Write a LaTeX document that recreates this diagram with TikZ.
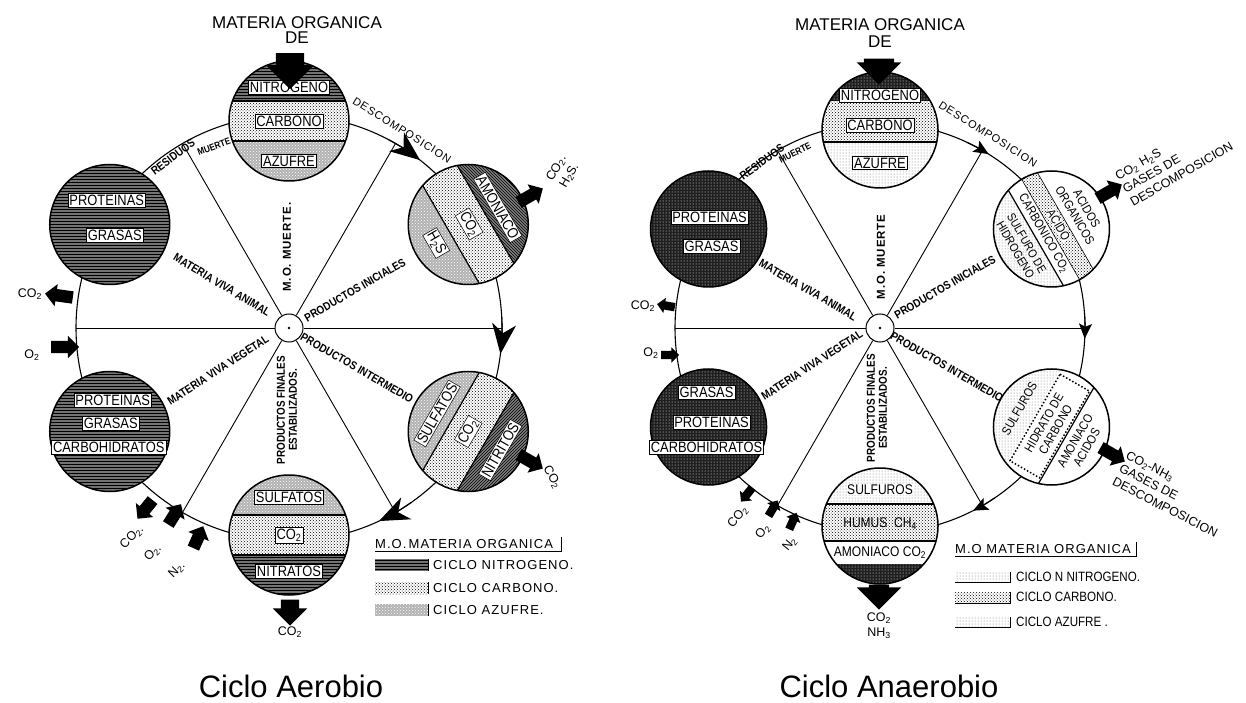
\documentclass[tikz,border=0pt]{standalone}
\usepackage{fontspec}
\setmainfont{Liberation Sans}
\newfontfamily\condfont[FakeStretch=0.86]{Liberation Sans}
\newfontfamily\spacedfont[LetterSpace=8]{Liberation Sans}
\usetikzlibrary{shapes.arrows,arrows.meta,patterns,positioning}

\begin{document}
\begin{tikzpicture}[x=1pt, y=1pt,
    ringline/.style={line width=1.1pt},
    spoke/.style={line width=0.9pt},
    bandline/.style={line width=1.2pt},
    hub/.style={circle, draw, fill=white, line width=1pt, minimum size=28pt, inner sep=0pt},
    disc/.style={circle, draw, line width=1.5pt, minimum size=120pt, inner sep=0pt},
    discB/.style={disc, minimum size=116pt},
    flowarrow/.style={ringline, -{Stealth[length=30pt, width=24pt, inset=9pt]}},
    flowarrowB/.style={ringline, -{Stealth[length=15pt, width=13pt, inset=3pt]}},
    garrow/.style={single arrow, fill=black, inner xsep=0pt, inner ysep=6pt, minimum width=22pt, minimum height=28pt, single arrow head extend=5pt},
    sarrow/.style={single arrow, fill=black, inner xsep=0pt, inner ysep=4pt, minimum width=15pt, minimum height=18pt, single arrow head extend=3.5pt},
    nfill/.style={preaction={fill=black!55}, pattern=horizontal lines},
    nwfill/.style={preaction={fill=black!50}, pattern=north west lines},
    nefill/.style={preaction={fill=black!50}, pattern=north east lines},
    cfill/.style={preaction={fill=white}, pattern=crosshatch dots},
    sfill/.style={preaction={fill=black!30}, pattern=crosshatch dots, pattern color=white},
    darkfill/.style={preaction={fill=black!88}, pattern=dots, pattern color=white},
    lightfill/.style={preaction={fill=white}, pattern=dots, pattern color=black!55},
    disclbl/.style={font=\condfont\fontsize{15}{16}\selectfont, fill=white, draw, line width=0.5pt, inner sep=1.5pt},
    disctext/.style={font=\condfont\fontsize{12.5}{13.5}\selectfont, inner sep=0.5pt, align=center},
    ringtag/.style={font=\condfont\bfseries\fontsize{11.5}{12}\selectfont, inner sep=0pt, align=center},
    gaslbl/.style={font=\fontsize{12.5}{15}\selectfont, inner sep=0pt, align=left},
    headlbl/.style={font=\fontsize{17}{17}\selectfont, inner sep=1pt},
    legtitle/.style={font=\spacedfont\fontsize{13}{13}\selectfont, inner sep=0pt, anchor=south west},
    legtxt/.style={font=\spacedfont\fontsize{13}{13}\selectfont, anchor=west, inner sep=0pt},
    titlelbl/.style={font=\fontsize{31}{31}\selectfont, anchor=base}
]
\useasboundingbox (0,0) rectangle (1246,702);

% ================= Ciclo Aerobio =================
\node[hub] (hubA) at (289,374) {};
\foreach \a in {0,60,...,300}
    \coordinate (rA\a) at ([shift={(\a:213)}]hubA.center);
\draw[ringline] (hubA.center) circle[radius=213];
\foreach \a in {0,60,...,300}
    \draw[spoke] (hubA) -- (rA\a);
\fill (hubA.center) circle[radius=1.3];

% flow along the ring
\draw[flowarrow] ([shift={(62:213)}]hubA.center) arc[start angle=62, end angle=52, radius=213];
\draw[flowarrow] ([shift={(3:213)}]hubA.center) arc[start angle=3, end angle=-7, radius=213];
\draw[flowarrow] ([shift={(-55:213)}]hubA.center) arc[start angle=-55, end angle=-65, radius=213];

% labels on the ring and the spokes
\node[ringtag, rotate=37] (resA) at (173,545) {RESIDUOS};
\node[ringtag, font=\condfont\bfseries\fontsize{9.5}{10}\selectfont, rotate=20] (muA) at (214,555) {MUERTE};
\node[ringtag, font=\spacedfont\fontsize{11}{11}\selectfont, rotate=-32] (desA) at (402,572) {DESCOMPOSICION};
\node[ringtag, rotate=-31] (mvaA) at (222,417) {MATERIA VIVA ANIMAL};
\node[ringtag, rotate=30] (piA) at (355,412) {PRODUCTOS INICIALES};
\node[ringtag, font=\spacedfont\bfseries\fontsize{11.5}{12}\selectfont, rotate=90] (momA) at (287,455) {M.O. MUERTE.};
\node[ringtag, rotate=33] (mvvA) at (218,332) {MATERIA VIVA VEGETAL};
\node[ringtag, rotate=-30] (pimA) at (357,334) {PRODUCTOS INTERMEDIO};
\node[ringtag, rotate=90] (pfA) at (287,292) {PRODUCTOS FINALES\\ESTABILIZADOS.};

% discs
\foreach \n/\a in {Top/90,Ur/30,Lr/-30,Bot/-90,Ll/-150,Ul/150}
    \coordinate (c\n A) at ([shift={(\a:207)}]hubA.center);

\begin{scope}[shift={(cTopA)}]
    \clip (0,0) circle[radius=60];
    \fill[nfill] (-60,20) rectangle (60,60);
    \fill[cfill] (-60,-20) rectangle (60,20);
    \fill[sfill] (-60,-60) rectangle (60,-20);
    \draw[bandline] (-60,20) -- (60,20) (-60,-20) -- (60,-20);
\end{scope}
\begin{scope}[shift={(cUrA)}, rotate=-60]
    \clip (0,0) circle[radius=60];
    \fill[nwfill] (-60,20) rectangle (60,60);
    \fill[cfill] (-60,-20) rectangle (60,20);
    \fill[sfill] (-60,-60) rectangle (60,-20);
    \draw[bandline] (-60,20) -- (60,20) (-60,-20) -- (60,-20);
\end{scope}
\begin{scope}[shift={(cLrA)}, rotate=-120]
    \clip (0,0) circle[radius=60];
    \fill[nefill] (-60,20) rectangle (60,60);
    \fill[cfill] (-60,-20) rectangle (60,20);
    \fill[sfill] (-60,-60) rectangle (60,-20);
    \draw[bandline] (-60,20) -- (60,20) (-60,-20) -- (60,-20);
\end{scope}
\begin{scope}[shift={(cBotA)}, rotate=180]
    \clip (0,0) circle[radius=60];
    \fill[nfill] (-60,20) rectangle (60,60);
    \fill[cfill] (-60,-20) rectangle (60,20);
    \fill[sfill] (-60,-60) rectangle (60,-20);
    \draw[bandline] (-60,20) -- (60,20) (-60,-20) -- (60,-20);
\end{scope}
\fill[nfill] (cLlA) circle[radius=60];
\fill[nfill] (cUlA) circle[radius=60];

\foreach \n in {Top,Ur,Lr,Bot,Ll,Ul}
    \node[disc] (disc\n A) at (c\n A) {};

\begin{scope}[shift={(cTopA)}]
    \node[disclbl] (nitA) at (0,34) {NITROGENO};
    \node[disclbl] (carA) at (0,0) {CARBONO};
    \node[disclbl] (azuA) at (0,-40) {AZUFRE};
\end{scope}
\begin{scope}[shift={(cUrA)}, rotate=-60]
    \node[disclbl, rotate=-60] (amoA) at (0,34) {AMONIACO};
    \node[disclbl, rotate=-60] (co1A) at (0,1) {CO\textsubscript{2}};
    \node[disclbl, rotate=-60] (hsA) at (0,-37) {H\textsubscript{2}S};
\end{scope}
\begin{scope}[shift={(cLrA)}, rotate=-120]
    \node[disclbl, rotate=60] (nitrA) at (0,37) {NITRITOS};
    \node[disclbl, rotate=60] (co2A) at (0,0) {CO\textsubscript{2}};
    \node[disclbl, rotate=60] (sulA) at (0,-36) {SULFATOS};
\end{scope}
\begin{scope}[shift={(cBotA)}, rotate=180]
    \node[disclbl] (natA) at (0,36) {NITRATOS};
    \node[disclbl] (co3A) at (0,0) {CO\textsubscript{2}};
    \node[disclbl] (sfA) at (0,-38) {SULFATOS};
\end{scope}
\begin{scope}[shift={(cLlA)}]
    \node[disclbl] (prvA) at (3,31) {PROTEINAS};
    \node[disclbl] (grvA) at (1,8) {GRASAS};
    \node[disclbl, minimum width=112pt] (chA) at (-1,-16) {CARBOHIDRATOS};
\end{scope}
\begin{scope}[shift={(cUlA)}]
    \node[disclbl] (praA) at (-3,24) {PROTEINAS};
    \node[disclbl] (graA) at (5,-11) {GRASAS};
\end{scope}

% gases in and out
\node[garrow, inner ysep=14pt, minimum width=46pt, minimum height=36pt, single arrow head extend=9pt, rotate=-90] (inA) at (290,638) {};
\node[garrow, rotate=30] (outUrA) at (528,505) {};
\node[garrow, rotate=-30] (outLrA) at (528,242) {};
\node[garrow, inner ysep=9pt, minimum width=34pt, minimum height=26pt, single arrow head extend=8pt, rotate=-90] (outBotA) at (290,94) {};
\node[garrow, rotate=172] (outLA) at (62,406) {};
\node[garrow] (inLA) at (62,355) {};
\node[garrow, minimum height=24pt, rotate=231] (outBlA) at (147,195) {};
\node[garrow, minimum height=24pt, rotate=58] (inBlA1) at (173,185) {};
\node[garrow, minimum height=24pt, rotate=66] (inBlA2) at (197,162) {};

\node[headlbl] (matA) at (297,679) {MATERIA ORGANICA};
\node[headlbl, below=0pt of matA] (deA) {DE};
\node[gaslbl, align=center, rotate=60] (gUrA) at (563,530) {CO\textsubscript{2}.\\H\textsubscript{2}S.};
\node[gaslbl, rotate=-60] (gLrA) at (552,225) {CO\textsubscript{2}};
\node[gaslbl] (gBotA) at (290,70) {CO\textsubscript{2}};
\node[gaslbl] (gLA1) at (30,408) {CO\textsubscript{2}};
\node[gaslbl] (gLA2) at (32,347) {O\textsubscript{2}};
\node[gaslbl, rotate=45] (gBlA1) at (132,165) {CO\textsubscript{2}.};
\node[gaslbl, rotate=45] (gBlA2) at (153,149) {O\textsubscript{2}.};
\node[gaslbl, rotate=45] (gBlA3) at (177,132) {N\textsubscript{2}.};

% legend
\node[legtitle] (legA) at (375,153) {M.O.\,MATERIA ORGANICA};
\draw[line width=0.9pt] ([yshift=-2pt]legA.south west) -- ([xshift=8pt, yshift=-2pt]legA.south east) -- ++(0,14);
\fill[nfill] (375,131) rectangle (428,143);
\fill[cfill] (375,108) rectangle (428,120);
\fill[sfill] (375,86) rectangle (428,98);
\draw[line width=1pt] (428,131) -- (428,143) (428,108) -- (428,120) (428,86) -- (428,98);
\node[legtxt] (legNA) at (433,137) {CICLO NITROGENO.};
\node[legtxt] (legCA) at (433,114) {CICLO CARBONO.};
\node[legtxt] (legSA) at (433,92) {CICLO AZUFRE.};

\node[titlelbl] (titA) at (291,5) {Ciclo Aerobio};

% ================= Ciclo Anaerobio =================
\node[hub] (hubB) at (880,374) {};
\foreach \a in {0,60,...,300}
    \coordinate (rB\a) at ([shift={(\a:205)}]hubB.center);
\draw[ringline] (hubB.center) circle[radius=205];
\foreach \a in {0,60,...,300}
    \draw[spoke] (hubB) -- (rB\a);
\fill (hubB.center) circle[radius=1.3];

\draw[flowarrowB] ([shift={(65:205)}]hubB.center) arc[start angle=65, end angle=58, radius=205];
\draw[flowarrowB] ([shift={(4:205)}]hubB.center) arc[start angle=4, end angle=-3, radius=205];
\draw[flowarrowB] ([shift={(-56:205)}]hubB.center) arc[start angle=-56, end angle=-63, radius=205];

\node[ringtag, rotate=36] (resB) at (762,540) {RESIDUOS};
\node[ringtag, font=\condfont\bfseries\fontsize{9.5}{10}\selectfont, rotate=27] (muB) at (795,549) {MUERTE};
\node[ringtag, font=\spacedfont\fontsize{11}{11}\selectfont, rotate=-32] (desB) at (988,568) {DESCOMPOSICION};
\node[ringtag, rotate=-30] (mvaB) at (808,412) {MATERIA VIVA ANIMAL};
\node[ringtag, rotate=30] (piB) at (945,415) {PRODUCTOS INICIALES};
\node[ringtag, font=\spacedfont\bfseries\fontsize{11.5}{12}\selectfont, rotate=90] (momB) at (881,445) {M.O. MUERTE};
\node[ringtag, rotate=33] (mvvB) at (812,337) {MATERIA VIVA VEGETAL};
\node[ringtag, rotate=-30] (pimB) at (947,335) {PRODUCTOS INTERMEDIO};
\node[ringtag, rotate=90] (pfB) at (877,294) {PRODUCTOS FINALES\\ESTABILIZADOS.};

\foreach \n/\a in {Top/90,Ur/30,Lr/-30,Bot/-90,Ll/-150,Ul/150}
    \coordinate (c\n B) at ([shift={(\a:198)}]hubB.center);

\begin{scope}[shift={(cTopB)}]
    \clip (0,0) circle[radius=58];
    \fill[darkfill] (-58,29) rectangle (58,58);
    \fill[cfill] (-58,-12) rectangle (58,29);
    \fill[lightfill] (-58,-58) rectangle (58,-12);
    \draw[bandline] (-58,-12) -- (58,-12);
\end{scope}
\begin{scope}[shift={(cUrB)}, rotate=-60]
    \clip (0,0) circle[radius=58];
    \fill[white] (-58,-58) rectangle (58,58);
    \fill[cfill] (-58,-1) rectangle (58,16);
    \fill[lightfill] (-58,-58) rectangle (58,-18);
    \draw[line width=0.6pt] (-58,-1) -- (58,-1) (-58,16) -- (58,16);
    \draw[bandline] (-58,-18) -- (58,-18);
\end{scope}
\begin{scope}[shift={(cLrB)}, rotate=-120]
    \clip (0,0) circle[radius=58];
    \fill[white] (-58,-58) rectangle (58,58);
    \fill[lightfill] (-58,-58) rectangle (58,-21);
    \draw[dotted, line width=1.5pt] (-50,-19) rectangle (50,15);
    \draw[bandline] (-58,17) -- (58,17);
\end{scope}
\begin{scope}[shift={(cBotB)}]
    \clip (0,0) circle[radius=58];
    \fill[lightfill] (-58,22) rectangle (58,58);
    \fill[cfill] (-58,-15) rectangle (58,22);
    \fill[white] (-58,-38) rectangle (58,-15);
    \fill[darkfill] (-58,-58) rectangle (58,-38);
    \draw[bandline] (-58,22) -- (58,22) (-58,-15) -- (58,-15);
\end{scope}
\fill[darkfill] (cLlB) circle[radius=58];
\fill[darkfill] (cUlB) circle[radius=58];

\foreach \n in {Top,Ur,Lr,Bot,Ll,Ul}
    \node[discB] (disc\n B) at (c\n B) {};

\begin{scope}[shift={(cTopB)}]
    \node[disclbl] (nitB) at (0,35) {NITROGENO};
    \node[disclbl] (carB) at (0,5) {CARBONO};
    \node[disclbl] (azuB) at (0,-33) {AZUFRE};
\end{scope}
\begin{scope}[shift={(cUrB)}, rotate=-60]
    \node[disctext, rotate=-60] (aoB) at (0,34) {ACIDOS\\ORGANICOS};
    \node[disctext, fill=white, rotate=-60] (acB) at (0,8) {ACIDO};
    \node[disctext, rotate=-60] (cbB) at (0,-9) {CARBONICO CO\textsubscript{2}};
    \node[disctext, font=\condfont\fontsize{12}{13}\selectfont, rotate=-60] (shB) at (0,-35) {SULFURO DE\\HIDROGENO};
\end{scope}
\begin{scope}[shift={(cLrB)}, rotate=-120]
    \node[disctext, rotate=60] (suB) at (0,-37) {SULFUROS};
    \node[disctext, rotate=60] (hcB) at (0,-2) {HIDRATO DE\\CARBONO};
    \node[disctext, rotate=60] (amB) at (0,34) {AMONIACO\\ACIDOS};
\end{scope}
\begin{scope}[shift={(cBotB)}]
    \node[disctext, font=\condfont\fontsize{14}{15}\selectfont, fill=white] (sfB) at (0,36) {SULFUROS};
    \node[disctext, font=\condfont\fontsize{14}{15}\selectfont] (huB) at (0,2) {HUMUS\ \ CH\textsubscript{4}};
    \node[disctext, font=\condfont\fontsize{14}{15}\selectfont] (acoB) at (0,-27) {AMONIACO CO\textsubscript{2}};
\end{scope}
\begin{scope}[shift={(cLlB)}]
    \node[disclbl] (grvB) at (-2,35) {GRASAS};
    \node[disclbl] (prvB) at (3,5) {PROTEINAS};
    \node[disclbl, minimum width=108pt] (chB) at (-2,-20) {CARBOHIDRATOS};
\end{scope}
\begin{scope}[shift={(cUlB)}]
    \node[disclbl] (praB) at (1,12) {PROTEINAS};
    \node[disclbl] (graB) at (3,-17) {GRASAS};
\end{scope}

\node[garrow, inner ysep=15pt, minimum width=44pt, minimum height=26pt, single arrow head extend=7pt, rotate=-90] (inB) at (879,638) {};
\node[garrow, rotate=30] (outUrB) at (1107,509) {};
\node[garrow, rotate=-30] (outLrB) at (1110,249) {};
\node[garrow, inner ysep=10pt, minimum width=44pt, minimum height=25pt, single arrow head extend=12pt, rotate=-90] (outBotB) at (879,110) {};
\node[sarrow, rotate=170] (outLB) at (668,396) {};
\node[sarrow] (inLB) at (668,347) {};
\node[sarrow, rotate=231] (outBlB) at (748,209) {};
\node[sarrow, rotate=59] (inBlB1) at (772,192) {};
\node[sarrow, rotate=66] (inBlB2) at (792,179) {};

\node[headlbl] (matB) at (880,677) {MATERIA ORGANICA};
\node[headlbl, below=2pt of matB] (deB) {DE};
\node[gaslbl, rotate=30] (gUrB) at (1174,541) {CO\textsubscript{2} H\textsubscript{2}S\\GASES DE\\DESCOMPOSICION};
\node[gaslbl, rotate=-27] (gLrB) at (1172,208) {CO\textsubscript{2}-NH\textsubscript{3}\\GASES DE\\DESCOMPOSICION};
\node[gaslbl, align=center] (gBotB) at (879,76) {CO\textsubscript{2}\\NH\textsubscript{3}};
\node[gaslbl] (gLB1) at (643,396) {CO\textsubscript{2}};
\node[gaslbl] (gLB2) at (651,349) {O\textsubscript{2}};
\node[gaslbl, rotate=50] (gBlB1) at (738,185) {CO\textsubscript{2}};
\node[gaslbl, rotate=50] (gBlB2) at (763,170) {O\textsubscript{2}};
\node[gaslbl, rotate=50] (gBlB3) at (790,158) {N\textsubscript{2}};

\node[legtitle] (legB) at (955,148) {M.O MATERIA ORGANICA};
\draw[line width=0.9pt] ([yshift=-2pt]legB.south west) -- ([xshift=5pt, yshift=-2pt]legB.south east) -- ++(0,14);
\fill[lightfill] (955,120) rectangle (1010,130);
\fill[cfill] (955,99) rectangle (1010,110);
\fill[lightfill] (955,75) rectangle (1010,85);
\draw[line width=0.8pt] (955,120) -- (1010,120) -- (1010,130) (955,99) -- (1010,99) -- (1010,110) (955,75) -- (1010,75) -- (1010,85);
\node[legtxt, font=\condfont\fontsize{13.5}{14}\selectfont] (legNB) at (1016,125) {CICLO N NITROGENO.};
\node[legtxt, font=\condfont\fontsize{13.5}{14}\selectfont] (legCB) at (1016,105) {CICLO CARBONO.};
\node[legtxt, font=\condfont\fontsize{13.5}{14}\selectfont] (legSB) at (1016,80) {CICLO AZUFRE .};

\node[titlelbl] (titB) at (889,5) {Ciclo Anaerobio};
\end{tikzpicture}
\end{document}
